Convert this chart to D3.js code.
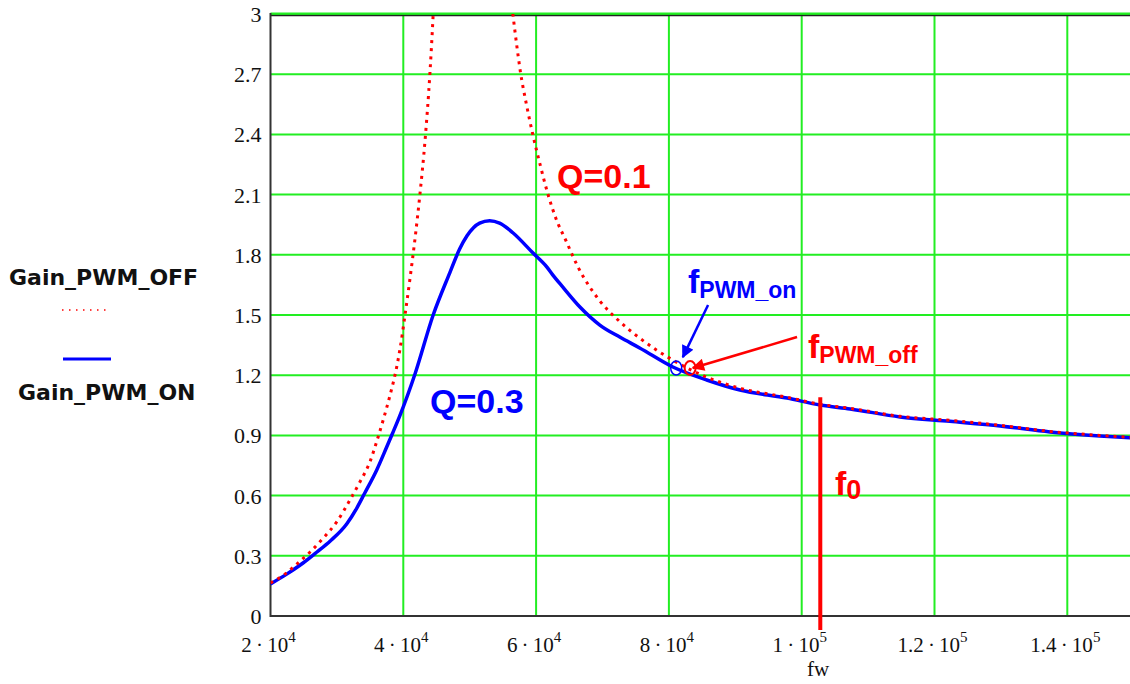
<!DOCTYPE html>
<html><head><meta charset="utf-8">
<script src="https://cdn.jsdelivr.net/npm/d3@7"></script>
<style>body{margin:0;background:#fff;} svg{display:block;background:#fff}</style>
</head><body><svg id="c" width="1130" height="684"></svg>
<script>
// ---- data ----
const blueF = [20000,22500,24900,27000,29000,31500,33000,34200,36000,37500,38400,39500,41800,44500,47000,48500,49600,51500,53000,54500,56500,59500,61600,62500,64000,66600,69600,72600,75600,80600,85700,90700,97800,102800,107300,114800,122300,129900,137400,144900,150000];
const blueG = [0.16,0.21,0.264,0.319,0.374,0.46,0.538,0.613,0.728,0.842,0.912,1.0,1.21,1.5,1.71,1.83,1.895,1.958,1.97,1.958,1.91,1.81,1.74,1.70,1.64,1.54,1.45,1.39,1.336,1.241,1.176,1.126,1.086,1.051,1.032,0.992,0.97,0.947,0.917,0.897,0.887];
const redF = [20000,22000,24000,26000,28000,30000,32000,33500,35000,36000,37000,38000,39000,39500,40300,41000,41800,42500,43300,44000,44500,44800,50000,55800,56500,57100,57600,58600,59500,60600,61800,63000,64500,66300,69600,72500,75600,80600,85700,90700,97800,102800,107300,114800,122300,129900,137400,144900,150000];
const redG = [0.165,0.205,0.26,0.32,0.39,0.47,0.58,0.67,0.77,0.87,0.98,1.1,1.24,1.33,1.51,1.68,1.89,2.1,2.38,2.7,3.0,3.22,null,3.2,3.0,2.84,2.72,2.54,2.40,2.25,2.10,1.98,1.87,1.74,1.57,1.47,1.385,1.275,1.19,1.135,1.09,1.055,1.035,0.995,0.975,0.95,0.92,0.9,0.89];
const xTicks = [20000,40000,60000,80000,100000,120000,140000];
const xTickMant = ["2","4","6","8","1","1.2","1.4"];
const xTickExp = ["4","4","4","4","5","5","5"];
const yTicks = [0,0.3,0.6,0.9,1.2,1.5,1.8,2.1,2.4,2.7,3];
const yTickLabels = ["0","0.3","0.6","0.9","1.2","1.5","1.8","2.1","2.4","2.7","3"];
const xTitle = "fw";
const seriesNames = ["Gain_PWM_OFF","Gain_PWM_ON"];
const f0Freq = 102800, f0Range = [1.09, -0.07];
const pwmOn = [81100, 1.236], pwmOff = [83200, 1.236];
const arrowOn = [[85900,1.55],[82100,1.29]];
const arrowOff = [[99300,1.39],[83600,1.236]];
const labelQ01 = [63150, 2.133], labelQ03 = [44020, 1.012];
const labelOn = [82875, 1.61], labelOff = [100947, 1.286], labelF0 = [105013, 0.603];

// ---- layout ----
const svg = d3.select("#c");
const x = d3.scaleLinear().domain([20000,150000]).range([270.5,1133.7]);
const y = d3.scaleLinear().domain([0,3]).range([616,14]);
const X0 = x(20000), X1 = 1130, Y0 = y(0), Y1 = y(3);
const green = "#22ee22";

svg.append("rect").attr("width",1130).attr("height",684).attr("fill","#fff");

// grid
svg.append("g").selectAll("line").data(yTicks.filter(d=>d>0)).join("line")
  .attr("x1",X0).attr("x2",X1).attr("y1",d=>y(d)).attr("y2",d=>y(d))
  .attr("stroke",green).attr("stroke-width",2);
svg.append("g").selectAll("line").data(xTicks.filter(d=>d>20000)).join("line")
  .attr("x1",d=>x(d)).attr("x2",d=>x(d)).attr("y1",Y1).attr("y2",Y0)
  .attr("stroke",green).attr("stroke-width",2);

// frame
svg.append("line").attr("x1",X0).attr("x2",X1).attr("y1",Y1+1.5).attr("y2",Y1+1.5).attr("stroke","#222").attr("stroke-width",1.5);
svg.append("line").attr("x1",X0).attr("x2",X1).attr("y1",Y1-0.5).attr("y2",Y1-0.5).attr("stroke",green).attr("stroke-width",2);
svg.append("line").attr("x1",X0).attr("x2",X0).attr("y1",Y1-1).attr("y2",Y0+1).attr("stroke","#333").attr("stroke-width",2);
svg.append("line").attr("x1",X0).attr("x2",X1).attr("y1",Y0).attr("y2",Y0).attr("stroke","#333").attr("stroke-width",2);

// y tick labels
svg.append("g").selectAll("text").data(yTicks).join("text")
  .attr("x",X0-9).attr("y",d=>y(d)+8).attr("text-anchor","end")
  .attr("font-family","Liberation Serif, serif").attr("font-size",22).attr("fill","#111")
  .text((d,i)=>yTickLabels[i]);

// x tick labels
const xl = svg.append("g").selectAll("text").data(xTicks).join("text")
  .attr("x",d=>x(d)-2).attr("y",652).attr("text-anchor","middle")
  .attr("font-family","Liberation Serif, serif").attr("font-size",21).attr("fill","#111");
xl.append("tspan").text((d,i)=>xTickMant[i]+"\u2009\u00b7\u200910");
xl.append("tspan").attr("dy",-10).attr("font-size",15).text((d,i)=>xTickExp[i]);
svg.append("text").attr("x",818).attr("y",676).attr("text-anchor","middle")
  .attr("font-family","Liberation Serif, serif").attr("font-size",21).attr("fill","#111").text(xTitle);

// clip
svg.append("clipPath").attr("id","plot").append("rect").attr("x",X0).attr("y",Y1).attr("width",X1-X0).attr("height",Y0-Y1);

const line = d3.line().defined(d=>d[1]!=null).x(d=>x(d[0])).y(d=>y(d[1])).curve(d3.curveMonotoneX);
const blueData = blueF.map((f,i)=>[f,blueG[i]]);
const redData = redF.map((f,i)=>[f,redG[i]]);

svg.append("path").datum(blueData).attr("d",line).attr("clip-path","url(#plot)")
  .attr("fill","none").attr("stroke","#0000ff").attr("stroke-width",3.5).attr("stroke-linejoin","round");
svg.append("path").datum(redData).attr("d",line).attr("clip-path","url(#plot)")
  .attr("fill","none").attr("stroke","#ff0000").attr("stroke-width",3).attr("stroke-dasharray","3,5");

// f0 line
svg.append("line").attr("x1",x(f0Freq)).attr("x2",x(f0Freq)).attr("y1",y(f0Range[0])).attr("y2",y(f0Range[1]))
  .attr("stroke","#ff0000").attr("stroke-width",4);

// markers
const defs = svg.append("defs");
[["ahB","#0000ff"],["ahR","#ff0000"]].forEach(([id,c])=>{
  defs.append("marker").attr("id",id).attr("viewBox","0 0 10 10").attr("refX",9).attr("refY",5)
    .attr("markerWidth",5.5).attr("markerHeight",5).attr("orient","auto").attr("markerUnits","strokeWidth")
    .append("path").attr("d","M0,0L10,5L0,10Z").attr("fill",c);
});
svg.append("ellipse").attr("cx",x(pwmOn[0])).attr("cy",y(pwmOn[1])).attr("rx",5.5).attr("ry",7)
  .attr("fill","none").attr("stroke","#0000ff").attr("stroke-width",1.5);
svg.append("ellipse").attr("cx",x(pwmOff[0])).attr("cy",y(pwmOff[1])).attr("rx",5.5).attr("ry",7)
  .attr("fill","none").attr("stroke","#ff0000").attr("stroke-width",2);
svg.append("line").attr("x1",x(arrowOn[0][0])).attr("y1",y(arrowOn[0][1])).attr("x2",x(arrowOn[1][0])).attr("y2",y(arrowOn[1][1]))
  .attr("stroke","#0000ff").attr("stroke-width",2.5).attr("marker-end","url(#ahB)");
svg.append("line").attr("x1",x(arrowOff[0][0])).attr("y1",y(arrowOff[0][1])).attr("x2",x(arrowOff[1][0])).attr("y2",y(arrowOff[1][1]))
  .attr("stroke","#ff0000").attr("stroke-width",2.5).attr("marker-end","url(#ahR)");

// annotations
const font = "Liberation Sans, Arial, sans-serif";
function ann(pos, color, main, sub, mainSize, subSize, subDy){
  const t = svg.append("text").attr("x",x(pos[0])).attr("y",y(pos[1])).attr("font-family",font)
    .attr("font-weight","bold").attr("fill",color).attr("font-size",mainSize);
  t.append("tspan").text(main);
  if(sub) t.append("tspan").attr("font-size",subSize).attr("dy",subDy).text(sub);
}
ann(labelQ01,"#ff0000","Q=0.1",null,34);
ann(labelQ03,"#0000ff","Q=0.3",null,34);
ann(labelOn,"#0000ff","f","PWM_on",34,23,5);
ann(labelOff,"#ff0000","f","PWM_off",34,23,5);
ann(labelF0,"#ff0000","f","0",34,27,4);

// legend
const lf = "DejaVu Sans, Verdana, sans-serif";
svg.append("text").attr("x",9).attr("y",285).attr("font-family",lf).attr("font-weight","bold").attr("font-size",22).attr("fill","#111").text(seriesNames[0]);
svg.append("line").attr("x1",62).attr("x2",110).attr("y1",310).attr("y2",310).attr("stroke","#ff0000").attr("stroke-width",1.5).attr("stroke-dasharray","1.5,5.5");
svg.append("line").attr("x1",63).attr("x2",111).attr("y1",359).attr("y2",359).attr("stroke","#0000ff").attr("stroke-width",3);
svg.append("text").attr("x",18).attr("y",400).attr("font-family",lf).attr("font-weight","bold").attr("font-size",22).attr("fill","#111").text(seriesNames[1]);
</script></body></html>
